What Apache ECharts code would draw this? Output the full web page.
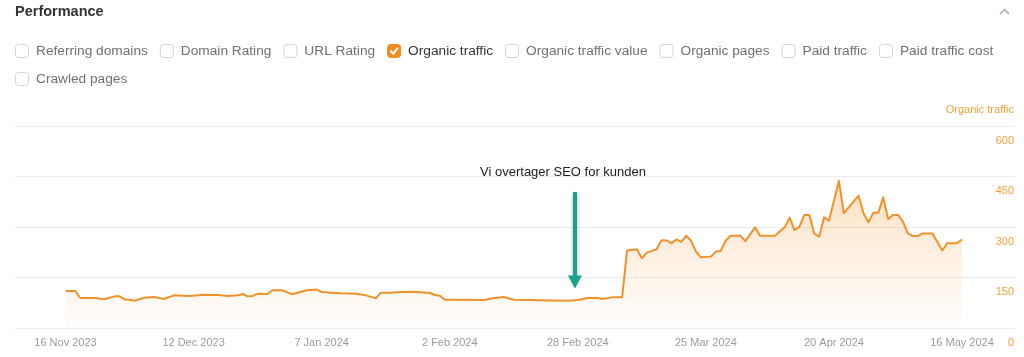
<!DOCTYPE html>
<html>
<head>
<meta charset="utf-8">
<script src="https://cdn.jsdelivr.net/npm/echarts@6/dist/echarts.min.js"></script>
<style>
  html, body { margin: 0; padding: 0; background: #fff; }
  #chart { width: 1024px; height: 357px; }
</style>
</head>
<body>
<div id="chart"></div>
<script>
// ---------- DATA ----------
const chartTitle = 'Performance';
const legendItems = ['Referring domains', 'Domain Rating', 'URL Rating', 'Organic traffic',
  'Organic traffic value', 'Organic pages', 'Paid traffic', 'Paid traffic cost', 'Crawled pages'];
const checkedItem = 'Organic traffic';
const seriesName = 'Organic traffic';

const dates = [
  '2023-11-16','2023-11-18','2023-11-19','2023-11-22','2023-11-23','2023-11-24','2023-11-26','2023-11-27',
  '2023-11-28','2023-11-29','2023-11-30','2023-12-02','2023-12-04','2023-12-06','2023-12-08','2023-12-11',
  '2023-12-13','2023-12-14','2023-12-17','2023-12-19','2023-12-21','2023-12-22','2023-12-23','2023-12-24',
  '2023-12-25','2023-12-27','2023-12-28','2023-12-30','2024-01-01','2024-01-04','2024-01-06','2024-01-07',
  '2024-01-09','2024-01-11','2024-01-14','2024-01-16','2024-01-18','2024-01-19','2024-01-21','2024-01-23',
  '2024-01-26','2024-01-27','2024-01-29','2024-01-30','2024-01-31','2024-02-01','2024-02-03','2024-02-09',
  '2024-02-11','2024-02-13','2024-02-15','2024-02-18','2024-02-22','2024-02-26','2024-02-28','2024-03-01',
  '2024-03-03','2024-03-04','2024-03-06','2024-03-08','2024-03-09','2024-03-11','2024-03-12','2024-03-13',
  '2024-03-15','2024-03-16','2024-03-17','2024-03-18','2024-03-19','2024-03-20','2024-03-21','2024-03-22',
  '2024-03-23','2024-03-24','2024-03-26','2024-03-27','2024-03-28','2024-03-29','2024-03-30','2024-04-01',
  '2024-04-02','2024-04-04','2024-04-05','2024-04-08','2024-04-10','2024-04-11','2024-04-12','2024-04-13',
  '2024-04-14','2024-04-15','2024-04-16','2024-04-17','2024-04-18','2024-04-19','2024-04-21','2024-04-22',
  '2024-04-25','2024-04-26','2024-04-27','2024-04-28','2024-04-29','2024-04-30','2024-05-01','2024-05-02',
  '2024-05-03','2024-05-04','2024-05-05','2024-05-06','2024-05-07','2024-05-08','2024-05-10','2024-05-12',
  '2024-05-13','2024-05-15','2024-05-16'
];
const traffic = [
  110,110,89,89,87,86,94,94,
  85,84,81,90,92,86,97,95,
  97,99,98,95,97,101,94,95,
  102,101,112,112,100,112,114,107,
  105,103,102,97,88,105,105,107,
  108,106,104,98,96,84,84,83,
  89,92,84,83,82,81,83,89,
  89,86,91,91,230,234,207,224,
  234,261,260,252,263,256,274,259,
  227,210,212,227,229,259,274,274,
  258,299,274,274,299,328,291,301,
  336,336,281,271,329,319,437,341,
  393,341,314,342,342,388,324,336,
  336,316,281,273,273,281,281,230,
  252,252,263
];

const xLabelDates = ['2023-11-16','2023-12-12','2024-01-07','2024-02-02','2024-02-28','2024-03-25','2024-04-20','2024-05-16'];
const monthNames = ['Jan','Feb','Mar','Apr','May','Jun','Jul','Aug','Sep','Oct','Nov','Dec'];
const yMin = 0, yMax = 600, yStep = 150;

const annotationText = 'Vi overtager SEO for kunden';
const annotationTextDate = '2024-02-25T00:00:00Z';
const annotationTextValue = 463;
const arrowDate = '2024-02-27T10:00:00Z';
const arrowTop = 404;
const arrowTip = 137;

// ---------- STYLE ----------
const FONT = '"Liberation Sans", Arial, Helvetica, sans-serif';
const ORANGE = '#f0922a';
const AXIS_ORANGE = '#eea236';
const TEAL = '#16a290';
const DAY = 86400000;

const xData = dates.map((d, i) => [Date.parse(d), traffic[i]]);
const xMin = Date.parse(dates[0]) - 10.25 * DAY;
const xMax = Date.parse(dates[dates.length - 1]) + 10.75 * DAY;

function fmtDate(v) {
  const d = new Date(v);
  return d.getUTCDate() + ' ' + monthNames[d.getUTCMonth()] + ' ' + d.getUTCFullYear();
}

// ---------- LEGEND (checkbox row, drawn as graphics) ----------
const measureCtx = document.createElement('canvas').getContext('2d');
const legendFontSize = 13.7;
measureCtx.font = legendFontSize + 'px ' + FONT;
const graphics = [];
graphics.push({
  type: 'text', left: 15, top: 4,
  style: { text: chartTitle, font: 'bold 14.5px ' + FONT, fill: '#333' }
});
graphics.push({
  type: 'polyline', shape: { points: [[1000, 14], [1004.5, 9.5], [1009, 14]] },
  style: { stroke: '#aaa', lineWidth: 1.5, fill: null }
});
let lx = 15, ly = 51;
const rowRight = 1010;
legendItems.forEach(name => {
  const w = measureCtx.measureText(name).width;
  const itemW = 13 + 8 + w;
  if (lx + itemW > rowRight) { lx = 15; ly += 28; }
  const checked = name === checkedItem;
  graphics.push({
    type: 'rect', shape: { x: lx + 0.5, y: ly - 6.5, width: 13, height: 13, r: 3 },
    style: checked ? { fill: '#f08c20', stroke: '#f08c20', lineWidth: 1 } : { fill: '#fff', stroke: '#d4d4d4', lineWidth: 1 }
  });
  if (checked) {
    graphics.push({
      type: 'polyline', shape: { points: [[lx + 3.8, ly + 0.2], [lx + 6.2, ly + 2.6], [lx + 10.2, ly - 2.4]] },
      style: { stroke: '#fff', lineWidth: 2, fill: null, lineCap: 'round', lineJoin: 'round' }
    });
  }
  graphics.push({
    type: 'text', x: lx + 21, y: ly,
    style: { text: name, font: legendFontSize + 'px ' + FONT, fill: checked ? '#333' : '#707070', verticalAlign: 'middle' }
  });
  lx += itemW + 12;
});

// ---------- CHART ----------
const chart = echarts.init(document.getElementById('chart'), null, { renderer: 'canvas' });
chart.setOption({
  animation: false,
  backgroundColor: '#fff',
  textStyle: { fontFamily: FONT },
  graphic: graphics,
  grid: { left: 15, right: 9, top: 126, bottom: 29, containLabel: false, outerBoundsMode: 'none' },
  xAxis: {
    type: 'value',
    min: xMin, max: xMax,
    axisLine: { show: false },
    axisTick: { show: false },
    splitLine: { show: false },
    axisLabel: {
      customValues: xLabelDates.map(d => Date.parse(d)),
      formatter: fmtDate,
      color: '#9b9b9b', fontSize: 11, margin: 9, fontFamily: FONT
    }
  },
  yAxis: {
    type: 'value',
    position: 'right',
    min: yMin, max: yMax, interval: yStep,
    name: seriesName,
    nameLocation: 'end',
    nameGap: 16,
    nameTextStyle: { color: AXIS_ORANGE, fontSize: 11, align: 'right', verticalAlign: 'middle', padding: [0, 1, 0, 0], fontFamily: FONT },
    axisLine: { show: false },
    axisTick: { show: false },
    splitLine: { lineStyle: { color: '#ebebeb', width: 1 } },
    axisLabel: {
      inside: true, margin: 1,
      color: AXIS_ORANGE, fontSize: 11, verticalAlign: 'top', lineHeight: 13,
      padding: [8, 0, 0, 0], fontFamily: FONT
    }
  },
  series: [{
    name: seriesName,
    type: 'line',
    data: xData,
    symbol: 'none',
    lineStyle: { color: ORANGE, width: 2, join: 'round' },
    itemStyle: { color: ORANGE },
    areaStyle: {
      color: new echarts.graphic.LinearGradient(0, 0, 0, 1, [
        { offset: 0, color: 'rgba(246,145,40,0.42)' },
        { offset: 0.6, color: 'rgba(246,150,50,0.16)' },
        { offset: 1, color: 'rgba(246,150,50,0.02)' }
      ])
    },
    markLine: {
      silent: true,
      symbol: ['none', 'triangle'],
      symbolSize: [14, 13],
      label: { show: false },
      lineStyle: { color: TEAL, width: 4, type: 'solid', shadowBlur: 4, shadowColor: 'rgba(0,0,0,0.3)', shadowOffsetY: 2 },
      emphasis: { disabled: true },
      data: [[
        { coord: [Date.parse(arrowDate), arrowTop] },
        { coord: [Date.parse(arrowDate), arrowTip] }
      ]]
    },
    markPoint: {
      silent: true,
      symbol: 'circle',
      symbolSize: 0,
      label: { show: true, position: 'inside', color: '#222', fontSize: 13, fontFamily: FONT, formatter: annotationText },
      data: [{ coord: [Date.parse(annotationTextDate), annotationTextValue] }]
    }
  }]
});
</script>
</body>
</html>
